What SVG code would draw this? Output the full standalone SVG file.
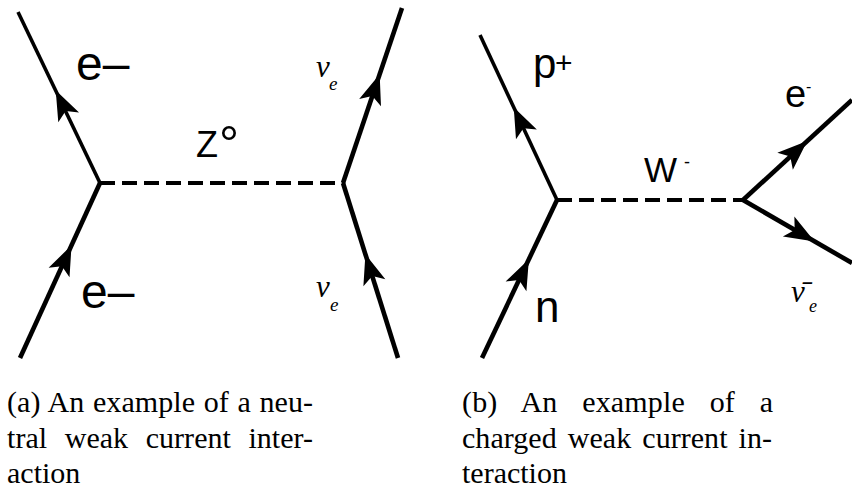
<svg xmlns="http://www.w3.org/2000/svg" xmlns:xlink="http://www.w3.org/1999/xlink" width="852" height="492" viewBox="0 0 852 492">
<style>
.f{fill:none;stroke:#000;stroke-width:4.6;stroke-linecap:butt}
.thin{stroke-width:3.6}
.b{fill:none;stroke:#000;stroke-width:4;stroke-dasharray:15 7}
.s{font-family:"Liberation Sans",Arial,sans-serif;fill:#000}
.g{font-family:"Liberation Serif","Times New Roman",serif;font-style:italic;fill:#000}
.c{font-family:"Liberation Serif","Times New Roman",serif;font-size:30px;fill:#000}
</style>
<defs>
<path id="arr" d="M3,0 L-27,-11.5 L-20,0 L-27,11.5 Z" fill="#000"/>
</defs>
<rect width="852" height="492" fill="#fff"/>
<g id="connectors">
<path class="f" d="M20,358 L100,183"/>
<path class="f thin" d="M100,183 L18,12"/>
<path class="b" d="M100,183 L343,183"/>
<path class="f" d="M343,183 L402,8"/>
<path class="f" d="M398,358 L343,183"/>
<path class="f" d="M482,358 L557,200"/>
<path class="f thin" d="M557,200 L480,35"/>
<path class="b" d="M557,200 L743,200"/>
<path class="f" d="M743,200 L852,100"/>
<path class="f" d="M743,200 L852,263"/>
<use xlink:href="#arr" transform="translate(70.3,248) rotate(-65.4)"/>
<use xlink:href="#arr" transform="translate(57,93) rotate(-115.6)"/>
<use xlink:href="#arr" transform="translate(378.7,77) rotate(-71.4)"/>
<use xlink:href="#arr" transform="translate(366.3,257) rotate(-107.4)"/>
<use xlink:href="#arr" transform="translate(527.6,262) rotate(-64.6)"/>
<use xlink:href="#arr" transform="translate(515,110) rotate(-115)"/>
<use xlink:href="#arr" transform="translate(805,143) rotate(-42.5)"/>
<use xlink:href="#arr" transform="translate(812,240) rotate(30)"/>
</g>
<g id="e-out-a"><text class="s" x="76" y="80" font-size="48">e–</text></g>
<g id="e-in-a"><text class="s" x="81" y="308" font-size="48">e–</text></g>
<g id="z0"><text class="s" x="196" y="157" font-size="36">Z<tspan x="219" y="161" font-size="50">°</tspan></text></g>
<g id="nu-out-a"><text class="g" x="316" y="77" font-size="31">ν<tspan x="329" y="90" font-size="19">e</tspan></text></g>
<g id="nu-in-a"><text class="g" x="316" y="297" font-size="31">ν<tspan x="330" y="311" font-size="19">e</tspan></text></g>
<g id="p-plus"><text class="s" x="533" y="78" font-size="42">p<tspan x="555" y="73" font-size="30">+</tspan></text></g>
<g id="n"><text class="s" x="535" y="322" font-size="44">n</text></g>
<g id="w-minus"><text class="s" x="644" y="182" font-size="35">W<tspan x="684" y="168" font-size="18">-</tspan></text></g>
<g id="e-b"><text class="s" x="785" y="107" font-size="38">e<tspan x="806" y="92" font-size="16">-</tspan></text></g>
<g id="nubar-b"><text class="g" x="791" y="302" font-size="31">ν̄<tspan x="809" y="312" font-size="18">e</tspan></text></g>
<g id="caption-a">
<text class="c" x="7" y="412" word-spacing="1" textLength="306" lengthAdjust="spacing">(a) An example of a neu-</text>
<text class="c" x="7" y="448" word-spacing="10" textLength="306" lengthAdjust="spacing">tral weak current inter-</text>
<text class="c" x="7" y="483">action</text>
</g>
<g id="caption-b">
<text class="c" x="462" y="412" word-spacing="17" textLength="311" lengthAdjust="spacing">(b) An example of a</text>
<text class="c" x="462" y="448" word-spacing="3.5" textLength="310" lengthAdjust="spacing">charged weak current in-</text>
<text class="c" x="462" y="483">teraction</text>
</g>
</svg>
